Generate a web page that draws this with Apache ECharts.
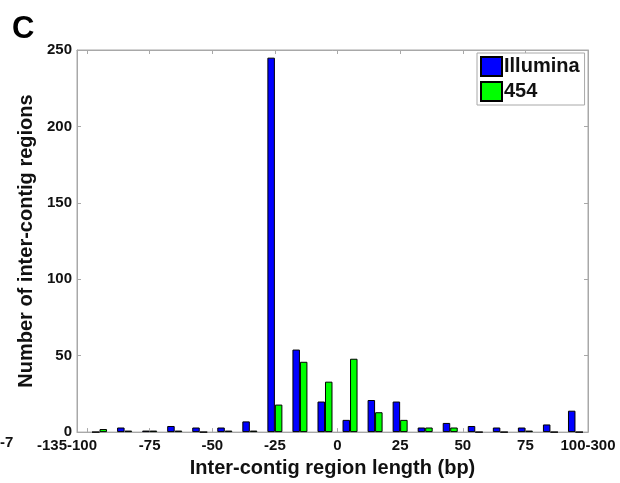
<!DOCTYPE html>
<html>
<head>
<meta charset="utf-8">
<script src="https://cdn.jsdelivr.net/npm/echarts@6/dist/echarts.min.js"></script>
<style>
  html, body { margin: 0; padding: 0; background: #fff; }
  #echarts { width: 620px; height: 483px; }
</style>
</head>
<body>
<div id="echarts"></div>
<script>
// bin centers (bp), 10 bp per bin
const binCenters = [-95, -85, -75, -65, -55, -45, -35, -25, -15, -5, 5, 15, 25, 35, 45, 55, 65, 75, 85, 95];
const illumina = [0, 3, 1, 4, 3, 3, 7, 245, 54, 20, 8, 21, 20, 3, 6, 4, 3, 3, 5, 14];
const seq454 = [2, 1, 1, 1, 0, 1, 1, 18, 46, 33, 48, 13, 8, 3, 3, 0, 0, 1, 0, 0];
const xTicks = [-100, -75, -50, -25, 0, 25, 50, 75, 100];
const xTickLabels = ['-135-100', '-75', '-50', '-25', '0', '25', '50', '75', '100-300'];

const chartDom = document.getElementById('echarts');
const myChart = echarts.init(chartDom);
let option;

const font = 'Liberation Sans, Arial, sans-serif';
const boxColor = '#a8a8a8';

function pairs(vals) {
    return binCenters.map((x, i) => [x, vals[i]]);
}

option = {
    animation: false,
    textStyle: { fontFamily: font },
    grid: {
        left: 77,
        right: 32,
        top: 50,
        bottom: 49,
        show: true,
        borderColor: boxColor,
        borderWidth: 1
    },
    legend: {
        orient: 'vertical',
        left: 477,
        top: 53,
        padding: [3, 5, 3, 3],
        itemGap: 4,
        itemWidth: 21,
        itemHeight: 19,
        icon: 'rect',
        borderColor: boxColor,
        borderWidth: 1,
        backgroundColor: '#fff',
        textStyle: {
            fontSize: 20,
            fontWeight: 'bold',
            color: '#111',
            padding: [0, 0, 0, -3]
        },
        data: ['Illumina', '454']
    },
    xAxis: [
        {
            type: 'value',
            min: -104,
            max: 100,
            name: 'Inter-contig region length (bp)',
            nameLocation: 'middle',
            nameGap: 19,
            nameTextStyle: { fontSize: 20, fontWeight: 'bold', color: '#111' },
            splitLine: { show: false },
            axisLine: { show: true, onZero: false, lineStyle: { color: boxColor } },
            axisTick: { show: true, inside: true, length: 4, customValues: xTicks, lineStyle: { color: boxColor } },
            axisLabel: {
                customValues: xTicks,
                margin: 6,
                fontSize: 15,
                fontWeight: 'bold',
                color: '#111',
                formatter: (v) => {
                    const i = xTicks.indexOf(v);
                    if (i === 0) {
                        return '{s|' + xTickLabels[0] + '}';
                    }
                    return i >= 0 ? xTickLabels[i] : '';
                },
                rich: {
                    s: { fontSize: 15, fontWeight: 'bold', color: '#111', padding: [0, 40, 0, 0] }
                }
            }
        },
        {
            type: 'value',
            position: 'top',
            min: -104,
            max: 100,
            splitLine: { show: false },
            axisLine: { show: true, onZero: false, lineStyle: { color: boxColor } },
            axisTick: { show: true, inside: true, length: 4, customValues: xTicks, lineStyle: { color: boxColor } },
            axisLabel: { show: false }
        }
    ],
    yAxis: [
        {
            type: 'value',
            min: 0,
            max: 250,
            interval: 50,
            name: 'Number of inter-contig regions',
            nameLocation: 'middle',
            nameGap: 30,
            nameTextStyle: { fontSize: 20, fontWeight: 'bold', color: '#111' },
            splitLine: { show: false },
            axisLine: { show: true, onZero: false, lineStyle: { color: boxColor } },
            axisTick: { show: true, inside: true, length: 4, lineStyle: { color: boxColor } },
            axisLabel: { margin: 5, fontSize: 15, fontWeight: 'bold', color: '#111' }
        },
        {
            type: 'value',
            position: 'right',
            min: 0,
            max: 250,
            interval: 50,
            splitLine: { show: false },
            axisLine: { show: true, onZero: false, lineStyle: { color: boxColor } },
            axisTick: { show: true, inside: true, length: 4, lineStyle: { color: boxColor } },
            axisLabel: { show: false }
        }
    ],
    graphic: [
        {
            type: 'text',
            left: 12,
            top: 14,
            style: { text: 'C', font: 'bold 31px ' + font, fill: '#000' }
        },
        {
            type: 'text',
            left: 0,
            top: 435,
            style: { text: '-7', font: 'bold 15px ' + font, fill: '#111' }
        }
    ],
    series: [
        {
            name: 'Illumina',
            type: 'bar',
            data: pairs(illumina),
            barWidth: 7.5,
            barGap: '0%',
            itemStyle: { color: '#0000ff', borderColor: '#000', borderWidth: 1 }
        },
        {
            name: '454',
            type: 'bar',
            data: pairs(seq454),
            barWidth: 7.5,
            barGap: '0%',
            itemStyle: { color: '#00ff00', borderColor: '#000', borderWidth: 1 }
        }
    ]
};
option && myChart.setOption(option);
</script>
</body>
</html>
